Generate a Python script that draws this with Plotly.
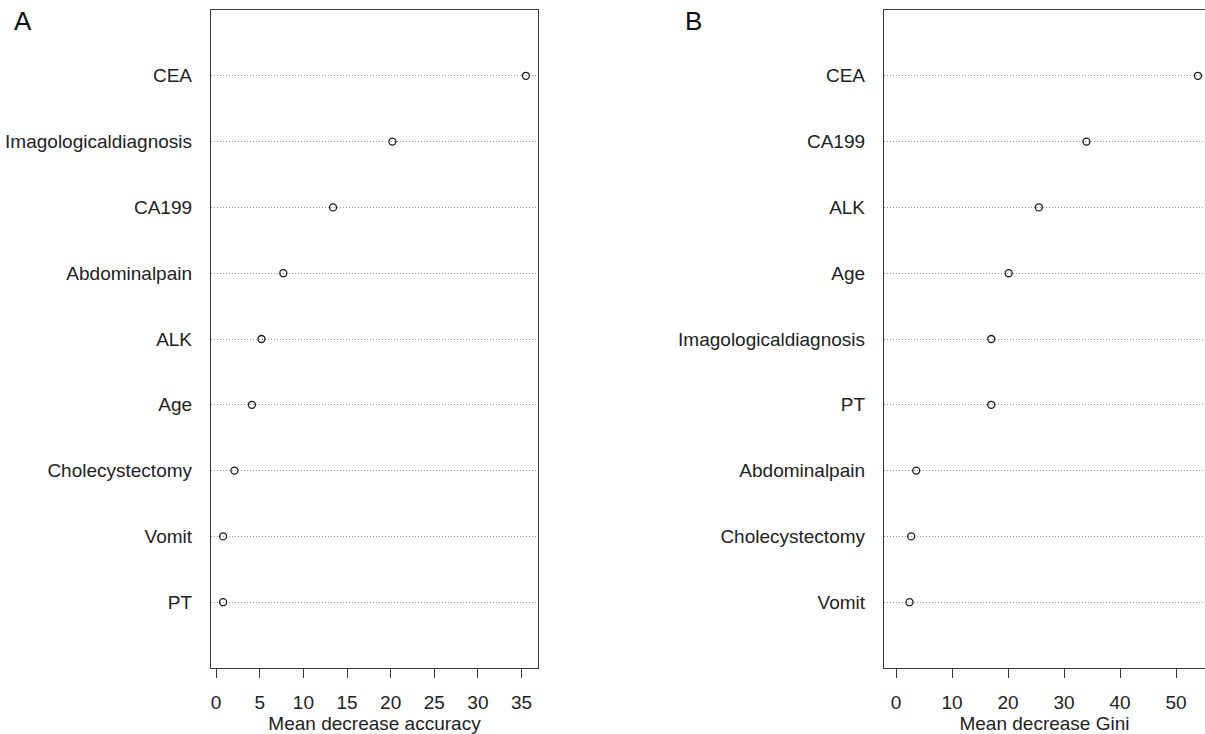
import plotly.graph_objects as go

# Panel A: Mean decrease accuracy (sorted top to bottom)
acc_vars = ["CEA", "Imagologicaldiagnosis", "CA199", "Abdominalpain", "ALK",
            "Age", "Cholecystectomy", "Vomit", "PT"]
acc_vals = [35.5, 20.2, 13.4, 7.7, 5.2, 4.1, 2.1, 0.8, 0.8]

# Panel B: Mean decrease Gini (sorted top to bottom)
gini_vars = ["CEA", "CA199", "ALK", "Age", "Imagologicaldiagnosis", "PT",
             "Abdominalpain", "Cholecystectomy", "Vomit"]
gini_vals = [53.9, 34.0, 25.5, 20.1, 17.0, 17.0, 3.6, 2.7, 2.4]

acc_ticks = [0, 5, 10, 15, 20, 25, 30, 35]
gini_ticks = [0, 10, 20, 30, 40, 50]

FONT = "Liberation Sans, Arial, Helvetica, sans-serif"
LINE = "#3a3a3a"

W, H = 1205, 734
# pixel geometry
a_left, a_right = 211, 538
b_left, b_right_full = 884, 1210
top, bottom = 10, 668

fig = go.Figure()
fig.add_trace(go.Scatter(
    x=acc_vals, y=acc_vars, mode="markers", xaxis="x", yaxis="y",
    marker=dict(symbol="circle-open", size=7, color="#1a1a1a", line=dict(width=1.3)),
    showlegend=False, hoverinfo="x+y"))
fig.add_trace(go.Scatter(
    x=gini_vals, y=gini_vars, mode="markers", xaxis="x2", yaxis="y2",
    marker=dict(symbol="circle-open", size=7, color="#1a1a1a", line=dict(width=1.3)),
    showlegend=False, hoverinfo="x+y"))

# R dotchart style ranges (4% extension)
a_lo, a_hi = min(acc_vals), max(acc_vals)
a_pad = 0.04 * (a_hi - a_lo)
a_range = [a_lo - a_pad, a_hi + a_pad]

b_lo, b_hi = 0, max(gini_vals)
b_pad = 0.04 * (b_hi - b_lo)
b_full = [b_lo - b_pad, b_hi + b_pad]
# panel B is cut off at the image edge
b_range = [b_full[0], b_full[0] + (b_full[1] - b_full[0]) * (W - b_left) / (b_right_full - b_left)]

common_x = dict(showline=True, linecolor=LINE, linewidth=1.3, mirror=True,
                ticks="outside", ticklen=9, tickwidth=1.3, tickcolor=LINE,
                showgrid=False, zeroline=False, ticklabelstandoff=8,
                tickfont=dict(family=FONT, size=19, color="#222"),
                title_font=dict(family=FONT, size=19, color="#222"),
                title_standoff=6)
common_y = dict(type="category", showline=True, linecolor=LINE, linewidth=1.3,
                ticks="outside", ticklen=0, ticklabelstandoff=14,
                showgrid=True, gridcolor="#9a9a9a", griddash="1px,2px", gridwidth=1,
                zeroline=False, range=[-1, len(acc_vars)],
                tickfont=dict(family=FONT, size=19, color="#222"))

fig.update_layout(
    width=W, height=H,
    margin=dict(l=0, r=0, t=top, b=H - bottom),
    paper_bgcolor="white", plot_bgcolor="white",
    xaxis=dict(domain=[a_left / W, a_right / W], range=a_range, tickvals=acc_ticks,
               title_text="Mean decrease accuracy", anchor="y", **common_x),
    yaxis=dict(domain=[0, 1], anchor="x", mirror=True,
               categoryorder="array", categoryarray=acc_vars[::-1], **common_y),
    xaxis2=dict(domain=[b_left / W, 1.0], range=b_range, tickvals=gini_ticks,
                title_text="Mean decrease Gini", anchor="y2", **common_x),
    yaxis2=dict(domain=[0, 1], anchor="x2", mirror=False,
                categoryorder="array", categoryarray=gini_vars[::-1], **common_y),
    annotations=[
        dict(text="A", x=12 / W, y=21, xref="paper", yref="paper", showarrow=False,
             xanchor="left", yanchor="middle", font=dict(family=FONT, size=26, color="#111")),
        dict(text="B", x=683 / W, y=21, xref="paper", yref="paper", showarrow=False,
             xanchor="left", yanchor="middle", font=dict(family=FONT, size=26, color="#111")),
    ],
)
# convert panel-letter y from pixels to paper coords
for ann in fig.layout.annotations:
    ann.y = 1 + (top - 21) / (bottom - top)

fig.write_html("out.html", config={"displayModeBar": False},
               post_script="document.body.style.margin='0';document.body.style.overflow='hidden';")
